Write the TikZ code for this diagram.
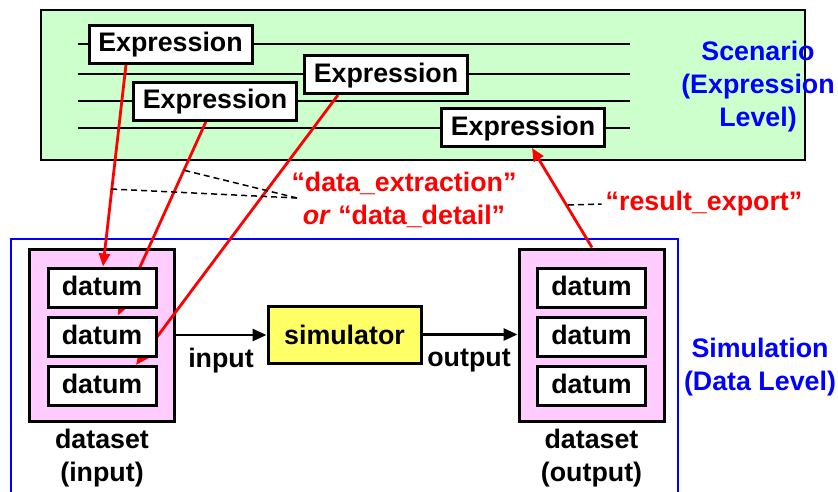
\documentclass[tikz,border=0pt]{standalone}
\usepackage{fontspec}
\setmainfont{Liberation Sans}
\usetikzlibrary{arrows.meta,calc}
\pgfdeclarelayer{bg}\pgfdeclarelayer{mid}\pgfsetlayers{bg,mid,main}
\definecolor{lgreen}{HTML}{CCFFCC}
\definecolor{lpink}{HTML}{FFCCFF}
\definecolor{lyellow}{HTML}{FFFF66}
\definecolor{myblue}{HTML}{0000FF}
\definecolor{myred}{HTML}{FF0000}
\begin{document}
\begin{tikzpicture}[x=1pt,y=-1pt,
  every node/.style={font=\fontsize{26.8}{33}\selectfont\bfseries},
  expr/.style={draw, fill=white, line width=3pt, minimum width=163pt, minimum height=38pt, inner sep=0pt, text height=19pt, text depth=4pt},
  datum/.style={draw, fill=white, line width=3pt, minimum width=108pt, minimum height=39pt, inner sep=0pt, text height=19pt, text depth=4pt},
  pinkbox/.style={draw, fill=lpink, line width=3pt, minimum width=145pt, minimum height=172pt, inner sep=0pt},
  simbox/.style={draw, fill=lyellow, line width=3pt, minimum width=153pt, minimum height=57pt, inner sep=0pt},
  lbl/.style={inner sep=0pt, align=center},
  hline/.style={line width=2.5pt},
  redarrow/.style={draw=myred, line width=2.8pt, -{Triangle[length=13pt,width=11pt]}},
  blkarrow/.style={draw=black, line width=2.8pt, -{Triangle[length=14pt,width=12pt]}},
  dashline/.style={draw=black, line width=1.5pt, dash pattern=on 6pt off 4pt}]
\useasboundingbox (0,0) rectangle (838,491);
\clip (0,0) rectangle (838,491);

% Scenario level
\node[expr] (e1) at (170.5,44) {Expression};
\node[expr] (e2) at (215,101) {Expression};
\node[expr] (e3) at (386,74.5) {Expression};
\node[expr] (e4) at (523,127.5) {Expression};

% datasets
\node[datum] (i1) at (102,287.5) {datum};
\node[datum] (i2) at (102,336.5) {datum};
\node[datum] (i3) at (102,386) {datum};
\node[datum] (o1) at (591.5,287.5) {datum};
\node[datum] (o2) at (591.5,336.5) {datum};
\node[datum] (o3) at (591.5,386) {datum};
\node[simbox] (sim) at (344.5,334.5) {simulator};

\begin{pgfonlayer}{bg}
  \draw[fill=lgreen, line width=2.5pt] (41,10) rectangle (805,160);
  \draw[hline] (78,44) -- (630,44);
  \draw[hline] (78,74) -- (630,74);
  \draw[hline] (78,101) -- (630,101);
  \draw[hline] (78,128) -- (630,128);
  \draw[draw=myblue, line width=2.8pt] (11,239) rectangle (678,520);
  \node[pinkbox] (dsin) at (101.5,335) {};
  \node[pinkbox] (dsout) at (591.5,335) {};
\end{pgfonlayer}

% labels
\node[lbl, text=myblue] (scen) at (758,87) {Scenario\\(Expression\\Level)};
\node[lbl, text=myblue] (simu) at (760,367) {Simulation\\(Data Level)};
\node[lbl] (dsinl) at (102,458) {dataset\\(input)};
\node[lbl] (dsoutl) at (591.5,458) {dataset\\(output)};
\node[lbl] (inl) at (221,361) {input};
\node[lbl] (outl) at (469,361) {output};
\node[lbl, text=myred] (dx) at (404,200) {“data\_extraction”\\\textit{or} “data\_detail”};
\node[lbl, text=myred] (re) at (704,204) {“result\_export”};

% red arrows
\begin{pgfonlayer}{mid}
  \draw[redarrow] ([xshift=-44.5pt]e1.south) -- ([xshift=1pt]i1.north);
  \draw[redarrow] ([xshift=-9pt]e2.south) -- ([xshift=16pt]i2.north);
  \draw[redarrow] ([xshift=-48pt]e3.south) -- ([xshift=34pt]i3.north);
  \draw[redarrow] ([xshift=0.5pt]dsout.north) -- ([xshift=9pt]e4.south);
\end{pgfonlayer}

% black arrows
\draw[blkarrow] (dsin.east) -- (dsin.east -| sim.west);
\draw[blkarrow] (sim.east) -- (sim.east -| dsout.west);

% dashed pointers
\coordinate (dA) at (111,189);
\coordinate (dB) at (183,170);
\coordinate (dC) at (297,198);
\draw[dashline] (dC) -- (dA);
\draw[dashline] (dC) -- (dB);
\coordinate (rC) at (568,205);
\draw[dashline] (rC) -- ([xshift=-4pt]re.west);
\end{tikzpicture}
\end{document}
